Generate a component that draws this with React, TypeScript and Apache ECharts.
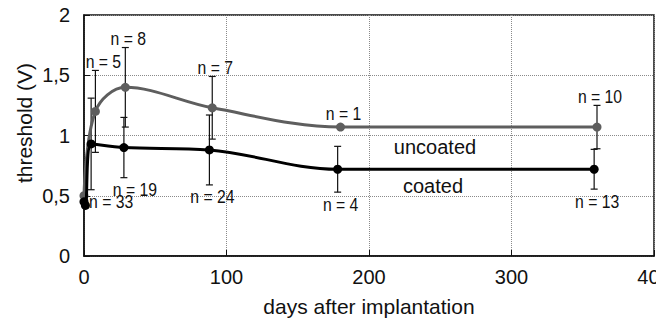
import React, { useEffect, useRef } from "react";
import * as echarts from "echarts";

// Uncoated leads (grey curve)
const uncoatedDays = [0, 8, 29, 90, 180, 360];
const uncoatedMean = [0.5, 1.2, 1.4, 1.23, 1.07, 1.07];
const uncoatedErr = [0, 0.34, 0.33, 0.26, 0, 0.18];
const uncoatedN = ["", "n = 5", "n = 8", "n = 7", "n = 1", "n = 10"];

// Coated leads (black curve)
const coatedDays = [0, 1, 5, 28, 88, 178, 358];
const coatedMean = [0.45, 0.42, 0.93, 0.9, 0.88, 0.72, 0.72];
const coatedErr = [0, 0, 0.38, 0.25, 0.29, 0.19, 0.165];
const coatedN = ["", "", "n = 33", "n = 19", "n = 24", "n = 4", "n = 13"];

const xTicks = [0, 100, 200, 300, 400];
const yTicks = [0, 0.5, 1, 1.5, 2];

const FONT = "'Liberation Sans', Arial, sans-serif";
const GREY = "#5e5e5e";

// nudges for the crowded labels right after implantation
const nudgeX: Record<string, number> = { "n = 5": 8, "n = 33": 20, "n = 19": 11 };

function errorBarSeries(
  days: number[],
  mean: number[],
  err: number[],
  nLabels: string[],
  labelAbove: boolean
) {
  const data = days.map((d, i) => [d, mean[i] - err[i], mean[i] + err[i]]);
  return {
    type: "custom",
    z: 1,
    data,
    encode: { x: 0, y: [1, 2] },
    renderItem: (params: any, api: any) => {
      const x = api.value(0);
      const lo = api.value(1);
      const hi = api.value(2);
      const label = nLabels[params.dataIndex];
      const pLo = api.coord([x, lo]);
      const pHi = api.coord([x, hi]);
      const cap = 3.5;
      const children: any[] = [];
      if (hi - lo > 0) {
        const st = { stroke: "#111", lineWidth: 1.2 };
        children.push(
          { type: "line", shape: { x1: pLo[0], y1: pLo[1], x2: pHi[0], y2: pHi[1] }, style: st },
          { type: "line", shape: { x1: pLo[0] - cap, y1: pLo[1], x2: pLo[0] + cap, y2: pLo[1] }, style: st },
          { type: "line", shape: { x1: pHi[0] - cap, y1: pHi[1], x2: pHi[0] + cap, y2: pHi[1] }, style: st }
        );
      }
      if (label) {
        const dx = nudgeX[label] ?? 3;
        const anchor = labelAbove ? pHi : pLo;
        const dy = labelAbove ? (hi - lo > 0 ? -9 : -14) : 12;
        children.push({
          type: "text",
          x: anchor[0] + dx,
          y: anchor[1] + dy,
          scaleX: 0.83,
          style: {
            text: label,
            x: 0,
            y: 0,
            align: "center",
            verticalAlign: "middle",
            fill: "#111",
            font: `19px ${FONT}`,
          },
        });
      }
      return { type: "group", children };
    },
  };
}

export default function App() {
  const ref = useRef<HTMLDivElement>(null);

  useEffect(() => {
    if (!ref.current) return;
    const chart = echarts.init(ref.current, null, { renderer: "svg" });
    const dotted = { type: "dotted" as const, color: "#8a8a8a", width: 1 };
    chart.setOption({
      animation: false,
      backgroundColor: "#fff",
      grid: {
        left: 84,
        right: 2,
        top: 15,
        bottom: 66,
        containLabel: false,
        outerBoundsMode: "none",
        show: true,
        borderColor: "#111",
        borderWidth: 1.5,
      },
      xAxis: {
        type: "value",
        min: xTicks[0],
        max: xTicks[xTicks.length - 1],
        interval: 100,
        name: "days after implantation",
        nameLocation: "middle",
        nameGap: 40,
        nameTextStyle: { fontFamily: FONT, fontSize: 21, color: "#111" },
        axisLine: { show: true, lineStyle: { color: "#111", width: 1.5 } },
        axisTick: { show: true, inside: true, length: 6, lineStyle: { color: "#111" } },
        axisLabel: { fontFamily: FONT, fontSize: 20, color: "#111", margin: 11 },
        splitLine: { show: true, lineStyle: dotted },
      },
      yAxis: {
        type: "value",
        min: yTicks[0],
        max: yTicks[yTicks.length - 1],
        interval: 0.5,
        axisLine: { show: true, lineStyle: { color: "#111", width: 1.5 } },
        axisTick: { show: true, inside: true, length: 6, lineStyle: { color: "#111" } },
        axisLabel: {
          fontFamily: FONT,
          fontSize: 20,
          color: "#111",
          margin: 14,
          formatter: (v: number) => String(v).replace(".", ","),
        },
        splitLine: { show: true, lineStyle: dotted },
      },
      graphic: [
        {
          type: "text",
          x: 24,
          y: 123,
          rotation: Math.PI / 2,
          style: {
            text: "threshold (V)",
            align: "center",
            verticalAlign: "middle",
            fill: "#111",
            font: `21px ${FONT}`,
          },
        },
        {
          type: "text",
          x: 435,
          y: 147,
          style: {
            text: "uncoated",
            align: "center",
            verticalAlign: "middle",
            fill: "#111",
            font: `20px ${FONT}`,
          },
        },
        {
          type: "text",
          x: 433,
          y: 186,
          style: {
            text: "coated",
            align: "center",
            verticalAlign: "middle",
            fill: "#111",
            font: `20px ${FONT}`,
          },
        },
      ],
      series: [
        errorBarSeries(uncoatedDays, uncoatedMean, uncoatedErr, uncoatedN, true),
        errorBarSeries(coatedDays, coatedMean, coatedErr, coatedN, false),
        {
          type: "line",
          name: "uncoated",
          z: 3,
          smooth: 0.35,
          data: uncoatedDays.map((d, i) => [d, uncoatedMean[i]]),
          symbol: "circle",
          symbolSize: 9,
          itemStyle: { color: GREY },
          lineStyle: { color: GREY, width: 3 },
        },
        {
          type: "line",
          name: "coated",
          z: 4,
          smooth: 0.35,
          data: coatedDays.map((d, i) => [d, coatedMean[i]]),
          symbol: "circle",
          symbolSize: 9,
          itemStyle: { color: "#000" },
          lineStyle: { color: "#000", width: 3 },
        },
      ],
    });
    return () => chart.dispose();
  }, []);

  return <div ref={ref} style={{ width: 656, height: 322, position: "absolute", left: 0, top: 0 }} />;
}
